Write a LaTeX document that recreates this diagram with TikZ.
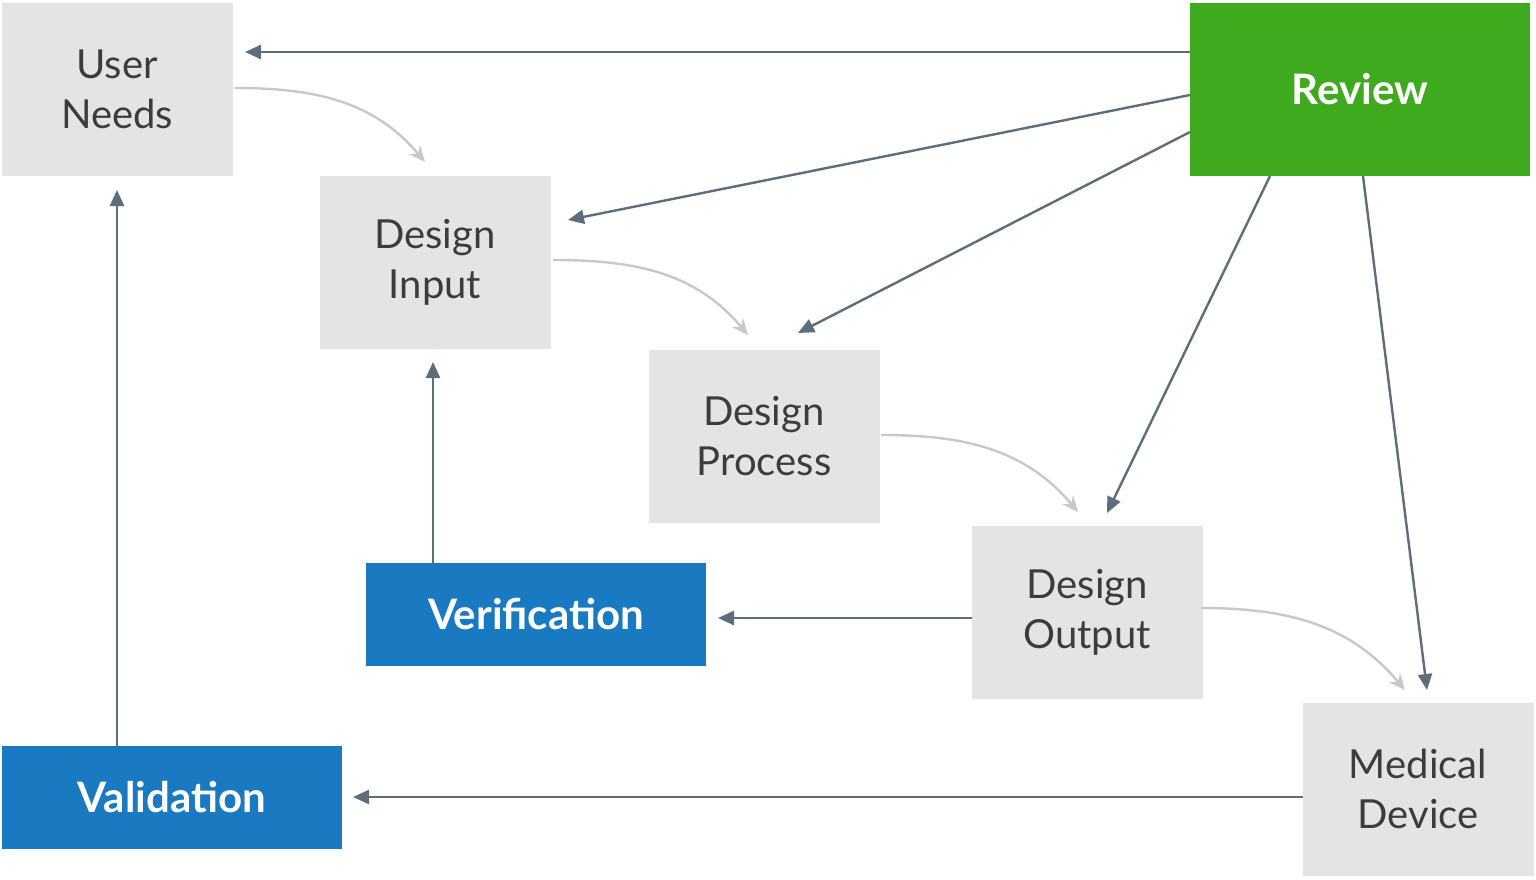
\documentclass[tikz,border=0pt]{standalone}
\usepackage{fontspec}
\setmainfont{Lato}
\usetikzlibrary{arrows.meta}
\definecolor{boxgray}{RGB}{228,228,230}
\definecolor{txtgray}{RGB}{60,60,64}
\definecolor{revgreen}{RGB}{64,170,30}
\definecolor{verblue}{RGB}{25,122,193}
\definecolor{arrgray}{RGB}{92,110,124}
\definecolor{curvegray}{RGB}{200,200,202}
\tikzset{
  stage/.style={fill=boxgray,minimum width=115.5pt,minimum height=86.5pt,inner sep=0pt,
    align=center,text=txtgray,font=\fontsize{20}{25}\selectfont},
  check/.style={fill=verblue,minimum width=170pt,minimum height=51.5pt,inner sep=0pt,
    text=white,font=\fontsize{21}{25}\selectfont\bfseries},
  link/.style={draw=arrgray,line width=1.2pt,-{Triangle[length=8pt,width=7pt]}},
  flow/.style={draw=curvegray,line width=1.2pt,-{Stealth[length=8pt,width=7pt]}}
}
\begin{document}
\begin{tikzpicture}[x=0.5pt,y=-0.5pt]
\useasboundingbox (0,0) rectangle (1536,879);

% stages
\node[stage] (needs) at (117,89) {User\\Needs};
\node[stage] (input) at (435,262) {Design\\Input};
\node[stage] (process) at (764,436) {Design\\Process};
\node[stage] (output) at (1087,612) {Design\\Output};
\node[stage] (device) at (1418,789) {Medical\\Device};
\node[fill=revgreen,minimum width=170pt,minimum height=86.5pt,inner sep=0pt,text=white,
  font=\fontsize{21}{25}\selectfont\bfseries] (review) at (1360,89) {Review};
\node[check] (verif) at (536,614) {Verification};
\node[check] (valid) at (172,797) {Validation};

% arrow ends
\coordinate (r1) at (1190,52);  \coordinate (e1) at (245,52);
\coordinate (r2) at (1190,95);  \coordinate (e2) at (568,220);
\coordinate (r3) at (1190,132); \coordinate (e3) at (798,333);
\coordinate (r4) at (1270,176); \coordinate (e4) at (1107,513);
\coordinate (r5) at (1363,176); \coordinate (e5) at (1427,690);
\coordinate (o1) at (972,618);  \coordinate (e6) at (718,618);
\coordinate (v1) at (433,563);  \coordinate (e7) at (433,362);
\coordinate (a1) at (117,746);  \coordinate (e8) at (117,190);
\coordinate (d1) at (1303,797); \coordinate (e9) at (353,797);

% review links
\draw[link] (r1) -- (e1);
\draw[link] (r2) -- (e2);
\draw[link] (r3) -- (e3);
\draw[link] (r4) -- (e4);
\draw[link] (r5) -- (e5);
\draw[link] (o1) -- (e6);
\draw[link] (v1) -- (e7);
\draw[link] (a1) -- (e8);
\draw[link] (d1) -- (e9);

% process flow
\coordinate (c1) at (235,88);   \coordinate (f1) at (425,162);
\coordinate (c2) at (553,260);  \coordinate (f2) at (748,335);
\coordinate (c3) at (881,435);  \coordinate (f3) at (1078,512);
\coordinate (c4) at (1201,608); \coordinate (f4) at (1405,690);
\foreach \s/\t in {c1/f1,c2/f2,c3/f3,c4/f4}
  \draw[flow] (\s) to[out=0,in=130] (\t);
\end{tikzpicture}
\end{document}
